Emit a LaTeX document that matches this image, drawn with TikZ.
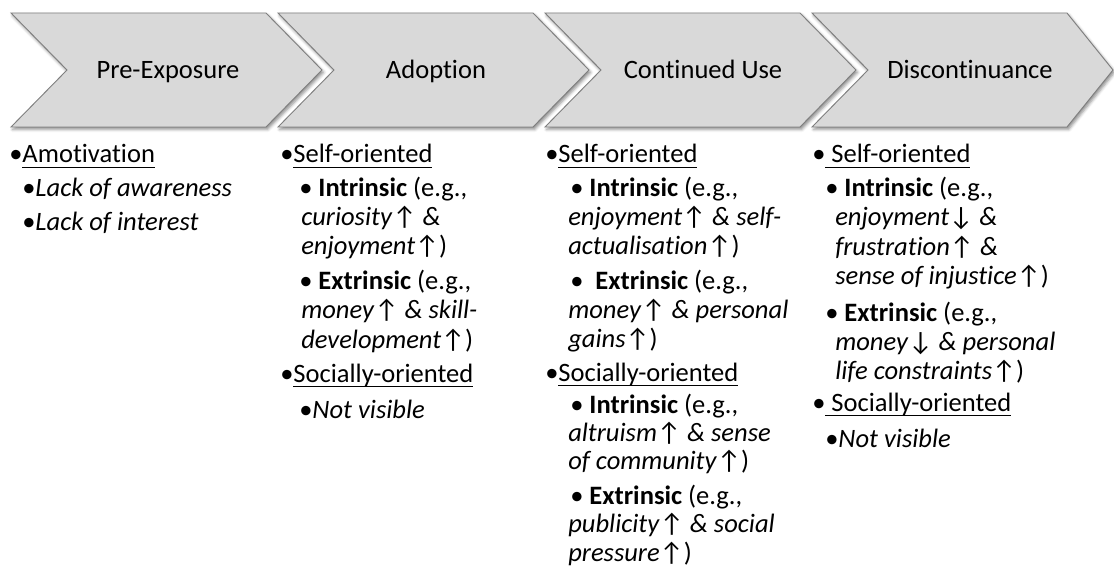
\documentclass[tikz,border=0pt]{standalone}
\usepackage{fontspec}
\setmainfont{Carlito}[Ligatures={NoCommon,NoContextual,NoRequired},Contextuals={NoAlternate}]
\usetikzlibrary{shadows.blur}
\definecolor{chevfill}{HTML}{D9D9D9}
\definecolor{chevline}{HTML}{7F7F7F}
\newlength\ulwd
\newcommand\ulx[1]{\settowidth\ulwd{#1}\rlap{\rule[-3.9pt]{\ulwd}{1.2pt}}#1}
\newcommand\upa{↑}
\newcommand\dna{↓}
\tikzset{
  chev/.style={fill=chevfill, draw=chevline, line width=0.7pt, line join=miter,
    blur shadow={shadow xshift=1.2pt, shadow yshift=-1.8pt, shadow blur radius=2.2pt, shadow opacity=45}},
  lab/.style={anchor=base, inner sep=0pt, font=\fontsize{19.9pt}{24pt}\selectfont},
  txt/.style={anchor=base west, inner sep=0pt, font=\fontsize{19.9pt}{24pt}\selectfont}
}
\begin{document}
\begin{tikzpicture}[x=0.75pt,y=-0.75pt]
\useasboundingbox (0,0) rectangle (1114,574);
% chevrons
\foreach \l in {11,278,545}{
  \path[chev] (\l,13) -- ++(255,0) -- ++(56,57) -- ++(-56,57) -- ++(-255,0) -- ++(56,-57) -- cycle;
}
\path[chev] (812,13) -- (1067,13) -- (1113,70) -- (1067,127) -- (812,127) -- (868,70) -- cycle;
\node[lab] (l1) at (168,79) {Pre-Exposure};
\node[lab] (l2) at (436,79) {Adoption};
\node[lab] (l3) at (703,79) {Continued Use};
\node[lab] (l4) at (970,79) {Discontinuance};
% column 1
\node[txt] (a1) at (9,163) {•\ulx{Amotivation}};
\node[txt] (a2) at (22,197) {•\textit{Lack of awareness}};
\node[txt] (a3) at (22,231) {•\textit{Lack of interest}};
% column 2
\node[txt] (b1) at (280,163) {•\ulx{Self-oriented}};
\node[txt] (b2) at (299,197) {• \textbf{Intrinsic} (e.g.,};
\node[txt] (b3) at (301,225) {\textit{curiosity}\upa{} \textit{\&}};
\node[txt] (b4) at (301,254) {\textit{enjoyment}\upa)};
\node[txt] (b5) at (299,289) {• \textbf{Extrinsic} (e.g.,};
\node[txt] (b6) at (301,318) {\textit{money}\upa{} \textit{\& skill-}};
\node[txt] (b7) at (301,348) {\textit{development}\upa)};
\node[txt] (b8) at (280,382) {•\ulx{Socially-oriented}};
\node[txt] (b9) at (299,418) {•\textit{Not visible}};
% column 3
\node[txt] (c1) at (545,163) {•\ulx{Self-oriented}};
\node[txt] (c2) at (570,197) {• \textbf{Intrinsic} (e.g.,};
\node[txt] (c3) at (568,225) {\textit{enjoyment}\upa{} \textit{\& self-}};
\node[txt] (c4) at (568,254) {\textit{actualisation}\upa)};
\node[txt] (c5) at (570,289) {•\ \ \textbf{Extrinsic} (e.g.,};
\node[txt] (c6) at (568,318) {\textit{money}\upa{} \textit{\& personal}};
\node[txt] (c7) at (568,347) {\textit{gains}\upa)};
\node[txt] (c8) at (545,381) {•\ulx{Socially-oriented}};
\node[txt] (c9) at (570,413) {• \textbf{Intrinsic} (e.g.,};
\node[txt] (c10) at (568,441) {\textit{altruism}\upa{} \textit{\& sense}};
\node[txt] (c11) at (568,469) {\textit{of community}\upa)};
\node[txt] (c12) at (570,504) {• \textbf{Extrinsic} (e.g.,};
\node[txt] (c13) at (568,532) {\textit{publicity}\upa{} \textit{\& social}};
\node[txt] (c14) at (568,561) {\textit{pressure}\upa)};
% column 4
\node[txt] (d1) at (812,163) {•\ulx{ Self-oriented}};
\node[txt] (d2) at (825,197) {• \textbf{Intrinsic} (e.g.,};
\node[txt] (d3) at (835,226) {\textit{enjoyment}\dna{} \textit{\&}};
\node[txt] (d4) at (835,255) {\textit{frustration}\upa{} \textit{\&}};
\node[txt] (d5) at (835,284) {\textit{sense of injustice}\upa)};
\node[txt] (d6) at (825,321) {• \textbf{Extrinsic} (e.g.,};
\node[txt] (d7) at (835,350) {\textit{money}\dna{} \textit{\& personal}};
\node[txt] (d8) at (835,379) {\textit{life constraints}\upa)};
\node[txt] (d9) at (812,411) {•\ulx{ Socially-oriented}};
\node[txt] (d10) at (825,447) {•\textit{Not visible}};
\end{tikzpicture}
\end{document}
